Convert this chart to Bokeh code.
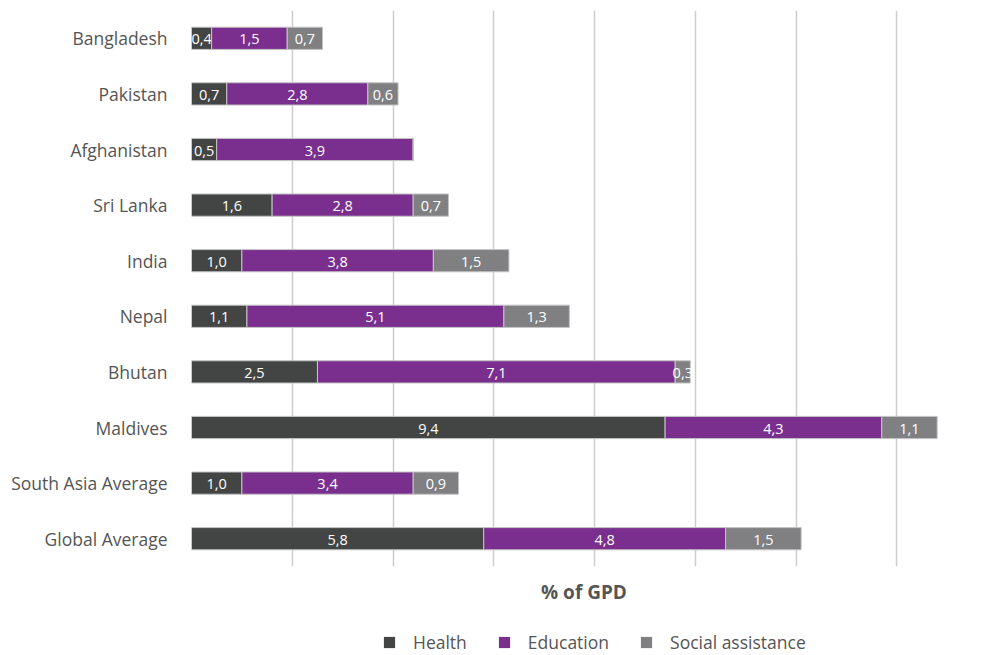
from bokeh.plotting import figure
from bokeh.layouts import column
from bokeh.models import (ColumnDataSource, Legend, LegendItem, Range1d, FactorRange,
                          SingleIntervalTicker, Title)
from bokeh.core.properties import value
from bokeh.embed import file_html
from bokeh.resources import INLINE

countries = ["Bangladesh", "Pakistan", "Afghanistan", "Sri Lanka", "India", "Nepal",
             "Bhutan", "Maldives", "South Asia Average", "Global Average"]
health = [0.4, 0.7, 0.5, 1.6, 1.0, 1.1, 2.5, 9.4, 1.0, 5.8]
education = [1.5, 2.8, 3.9, 2.8, 3.8, 5.1, 7.1, 4.3, 3.4, 4.8]
social = [0.7, 0.6, 0.0, 0.7, 1.5, 1.3, 0.3, 1.1, 0.9, 1.5]

series_names = ["Health", "Education", "Social assistance"]
series_values = [health, education, social]
colors = ["#434544", "#7a2f8f", "#808083"]

FONT = "Open Sans"
TXT = "#555555"

p = figure(width=976, height=615, y_range=FactorRange(*reversed(countries)),
           x_range=Range1d(0, 15.58), output_backend="svg", toolbar_location=None,
           min_border_left=191, min_border_top=10, min_border_right=0, min_border_bottom=0)
p.outline_line_color = None

left = [0.0] * len(countries)
for name, vals, col in zip(series_names, series_values, colors):
    right = [l + v for l, v in zip(left, vals)]
    src = ColumnDataSource(dict(y=countries, left=left, right=right))
    p.hbar(y="y", left="left", right="right", height=0.4, source=src,
           fill_color=col, line_color="#c4c4c4", line_width=1)
    lx, ly, lt = [], [], []
    for c, l, v in zip(countries, left, vals):
        if v > 0:
            lx.append(l + v / 2)
            ly.append(c)
            lt.append(f"{v:.1f}".replace(".", ","))
    tsrc = ColumnDataSource(dict(x=lx, y=ly, t=lt))
    p.text(x="x", y="y", text="t", source=tsrc, text_color="white",
           text_font=value(FONT), text_font_size="14.5px", text_font_style="normal",
           text_align="center", text_baseline="middle", y_offset=1)
    left = right

p.xaxis.ticker = SingleIntervalTicker(interval=2)
p.xaxis.visible = False
p.xgrid.ticker = SingleIntervalTicker(interval=2)
p.xgrid.grid_line_color = "#cccccc"
p.xgrid.grid_line_width = 1.5
p.ygrid.grid_line_color = None

p.yaxis.axis_line_color = None
p.yaxis.major_tick_line_color = None
p.yaxis.minor_tick_line_color = None
p.yaxis.major_tick_out = 0
p.yaxis.major_tick_in = 0
p.yaxis.major_label_text_font = FONT
p.yaxis.major_label_text_font_size = "17.5px"
p.yaxis.major_label_text_color = TXT
p.yaxis.major_label_standoff = 24

xt = Title(text="% of GPD", align="center", text_font=FONT, text_font_size="19px",
           text_font_style="bold", text_color=TXT, standoff=21)
p.add_layout(xt, "below")

# legend strip
lg = figure(width=976, height=40, x_range=Range1d(0, 1), y_range=Range1d(0, 1),
            output_backend="svg", toolbar_location=None,
            min_border_left=191, min_border_right=0, min_border_top=0, min_border_bottom=0)
lg.axis.visible = False
lg.grid.visible = False
lg.outline_line_color = None
items = []
for name, col in zip(series_names, colors):
    r = lg.quad(left=[-5], right=[-4], bottom=[-5], top=[-4], fill_color=col, line_color=None)
    items.append(LegendItem(label=name, renderers=[r]))
legend = Legend(items=items, orientation="horizontal", location=(191, 1),
                label_text_font=FONT, label_text_font_size="17.5px", label_text_color=TXT,
                glyph_width=14, glyph_height=14, label_standoff=17, spacing=30,
                border_line_color=None, background_fill_alpha=0, padding=0, margin=0)
lg.add_layout(legend)

layout = column(p, lg, spacing=0)
open("out.html", "w").write(file_html(layout, INLINE))
